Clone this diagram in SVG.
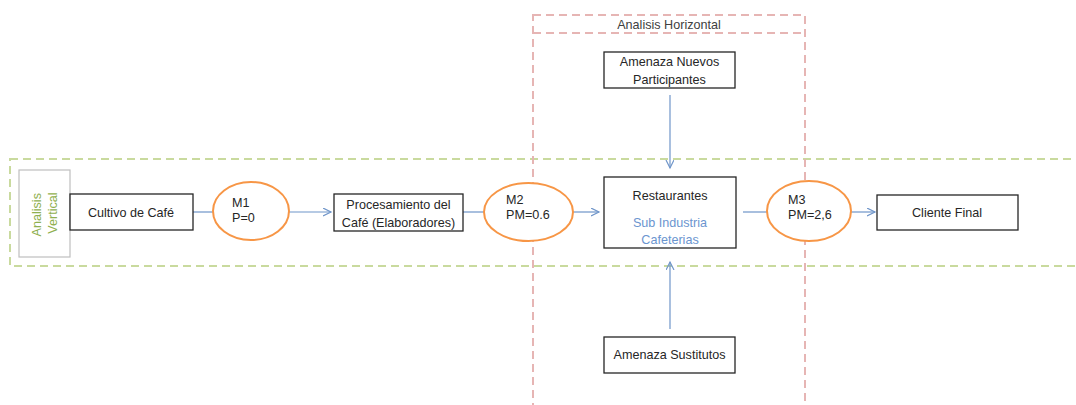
<svg xmlns="http://www.w3.org/2000/svg" width="1076" height="405" viewBox="0 0 1076 405">
  <defs>
    <marker id="open-arrow" markerWidth="10" markerHeight="10" refX="8" refY="4" orient="auto" markerUnits="userSpaceOnUse">
      <path d="M0,0 L8,4 L0,8" fill="none" stroke="#6f95c9" stroke-width="1.2"/>
    </marker>
  </defs>
  <style>
    .box { fill: #ffffff; stroke: #262626; stroke-width: 1.3; }
    .market { fill: #ffffff; stroke: #f79646; stroke-width: 2; }
    .label { font-family: "Liberation Sans", Arial, sans-serif; font-size: 12.6px; fill: #262626; }
    .mid { text-anchor: middle; }
    .link { fill: none; stroke: #6f95c9; stroke-width: 1.2; }
    .frame-v { fill: none; stroke: #c9da9e; stroke-width: 2; stroke-dasharray: 8 5; }
    .frame-h { fill: none; stroke: #e6b5b4; stroke-width: 2; stroke-dasharray: 8 5; }
  </style>

  <rect width="1076" height="405" fill="#ffffff"/>

  <!-- vertical analysis band -->
  <g id="band-vertical">
    <rect class="frame-v" x="10" y="159" width="1090" height="107"/>
  </g>

  <!-- horizontal analysis column -->
  <g id="band-horizontal">
    <rect class="frame-h" x="533" y="15" width="272" height="420"/>
    <line class="frame-h" x1="533" y1="33" x2="805" y2="33"/>
    <text class="label mid" x="669" y="29" style="fill:#404040">Analisis Horizontal</text>
  </g>

  <!-- connectors -->
  <g id="connectors">
    <line class="link" x1="193" y1="212" x2="213" y2="212"/>
    <line class="link" x1="289" y1="212" x2="331" y2="212" marker-end="url(#open-arrow)"/>
    <line class="link" x1="463" y1="212" x2="484" y2="212"/>
    <line class="link" x1="573" y1="212" x2="599" y2="212" marker-end="url(#open-arrow)"/>
    <line class="link" x1="743" y1="212" x2="767" y2="212"/>
    <line class="link" x1="851" y1="212" x2="875" y2="212" marker-end="url(#open-arrow)"/>
    <line class="link" x1="670" y1="95" x2="670" y2="168" marker-end="url(#open-arrow)"/>
    <line class="link" x1="670" y1="329" x2="670" y2="262" marker-end="url(#open-arrow)"/>
  </g>

  <g id="label-vertical">
    <rect x="19" y="170" width="51" height="87" fill="#ffffff" stroke="#bfbfbf" stroke-width="1.2"/>
    <text class="label mid" transform="translate(44 213) rotate(-90)" style="fill:#8fb04f">
      <tspan x="0" y="-3">Analisis</tspan>
      <tspan x="0" y="13">Vertical</tspan>
    </text>
  </g>

  <g id="cultivo">
    <rect class="box" x="70" y="194" width="123" height="36"/>
    <text class="label mid" x="131" y="217">Cultivo de Café</text>
  </g>

  <g id="m1">
    <ellipse class="market" cx="251" cy="211" rx="38" ry="29"/>
    <text class="label" x="232" y="207">M1</text>
    <text class="label" x="232" y="222">P=0</text>
  </g>

  <g id="procesamiento">
    <rect class="box" x="334" y="194" width="129" height="37"/>
    <text class="label mid" x="398.5" y="209">Procesamiento del</text>
    <text class="label mid" x="398.5" y="227">Café (Elaboradores)</text>
  </g>

  <g id="m2">
    <ellipse class="market" cx="528.5" cy="212" rx="44.5" ry="29"/>
    <text class="label" x="506" y="204">M2</text>
    <text class="label" x="506" y="219">PM=0.6</text>
  </g>

  <g id="restaurantes">
    <rect class="box" x="604" y="177" width="132" height="71"/>
    <text class="label mid" x="670" y="200">Restaurantes</text>
    <text class="label mid" x="670" y="227" style="fill:#6b95cf">Sub Industria</text>
    <text class="label mid" x="670" y="244" style="fill:#6b95cf">Cafeterias</text>
  </g>

  <g id="m3">
    <ellipse class="market" cx="809" cy="211" rx="42" ry="30"/>
    <text class="label" x="788" y="204">M3</text>
    <text class="label" x="788" y="219">PM=2,6</text>
  </g>

  <g id="cliente">
    <rect class="box" x="877" y="195" width="141" height="35"/>
    <text class="label mid" x="947" y="217">Cliente Final</text>
  </g>

  <g id="nuevos">
    <rect class="box" x="604" y="52" width="131" height="36"/>
    <text class="label mid" x="669.5" y="66">Amenaza Nuevos</text>
    <text class="label mid" x="669.5" y="84">Participantes</text>
  </g>

  <g id="sustitutos">
    <rect class="box" x="604" y="337" width="131" height="36"/>
    <text class="label mid" x="669.5" y="359">Amenaza Sustitutos</text>
  </g>
</svg>
